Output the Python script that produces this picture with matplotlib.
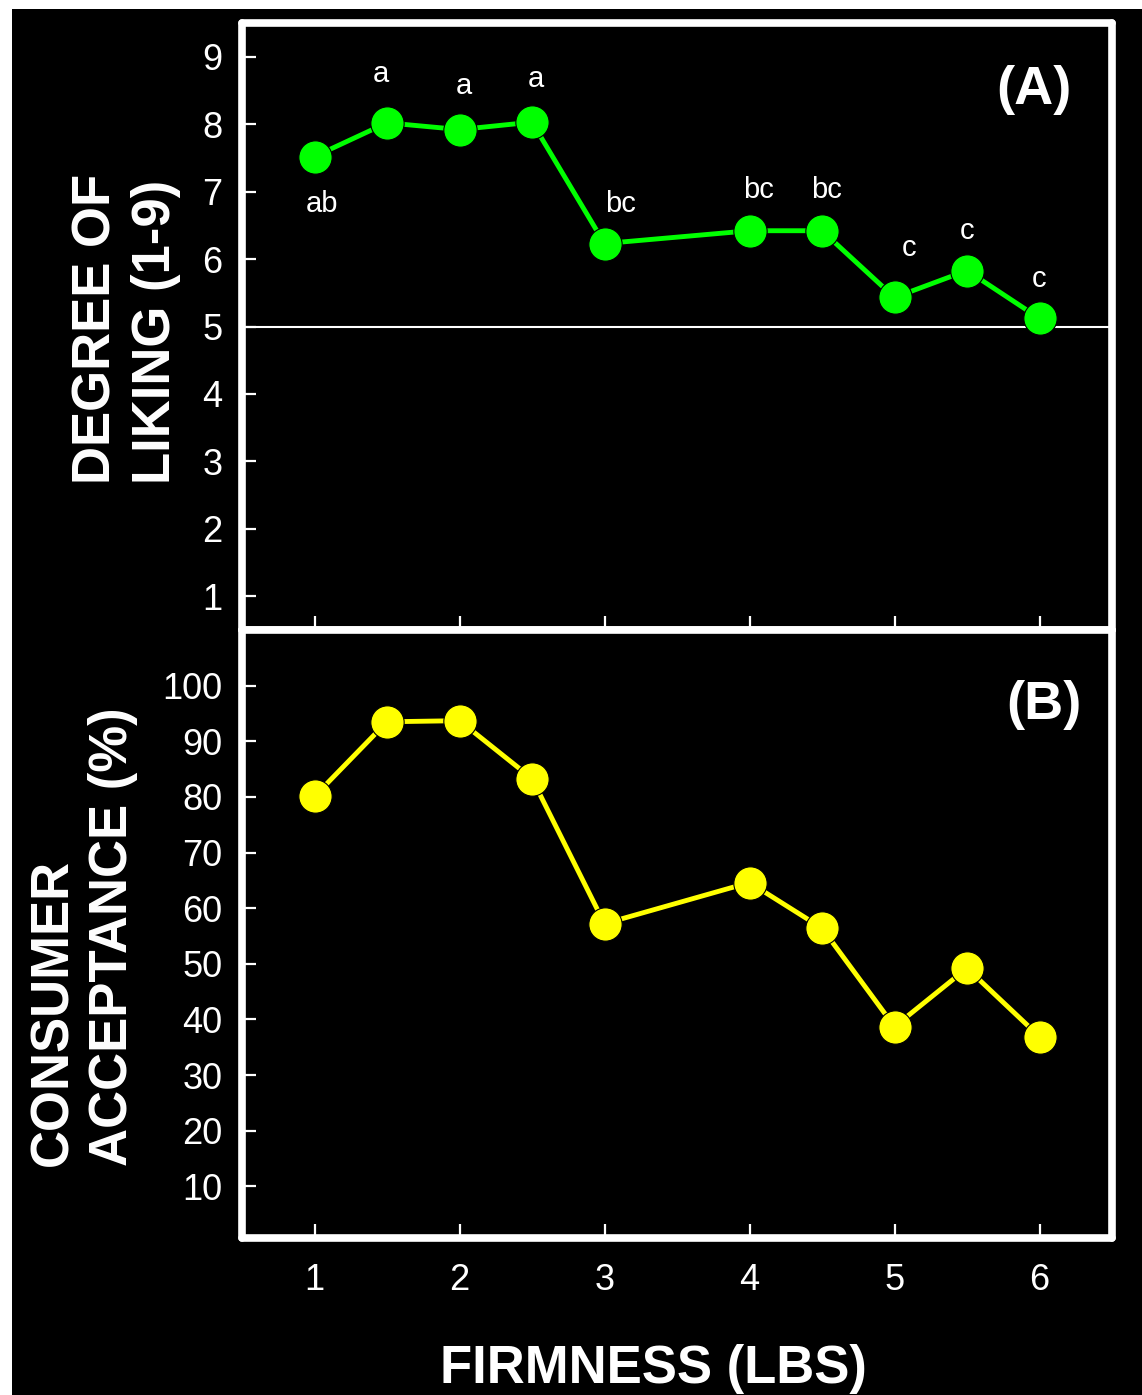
import matplotlib
matplotlib.use('Agg')
import matplotlib.pyplot as plt
from matplotlib.patches import Rectangle

plt.rcParams['font.family'] = ['Liberation Sans', 'DejaVu Sans']

# data
firmness = [1, 1.5, 2, 2.5, 3, 4, 4.5, 5, 5.5, 6]
liking = [7.52, 8.02, 7.92, 8.03, 6.23, 6.42, 6.42, 5.43, 5.83, 5.12]
acceptance = [80.1, 93.5, 93.7, 83.3, 57.2, 64.6, 56.4, 38.7, 49.2, 36.9]
letters = ['ab', 'a', 'a', 'a', 'bc', 'bc', 'bc', 'c', 'c', 'c']
letter_x = [1.055, 1.46, 2.03, 2.53, 3.11, 4.06, 4.53, 5.10, 5.50, 6.00]
letter_y = [6.82, 8.75, 8.56, 8.67, 6.82, 7.03, 7.03, 6.17, 6.42, 5.71]
x_ticks = [1, 2, 3, 4, 5, 6]
liking_ticks = [1, 2, 3, 4, 5, 6, 7, 8, 9]
accept_ticks = [10, 20, 30, 40, 50, 60, 70, 80, 90, 100]

W, H = 1142, 1395
fig = plt.figure(figsize=(W / 100, H / 100), dpi=100, facecolor='white')
fig.patches.append(Rectangle((12 / W, 0), 1, (H - 9) / H, transform=fig.transFigure,
                             facecolor='black', edgecolor='none', zorder=-10))

left, width = 242 / W, 870 / W
ax1 = fig.add_axes([left, (H - 630) / H, width, 607 / H])
ax2 = fig.add_axes([left, (H - 1238) / H, width, 608 / H])


def style(ax):
    ax.set_facecolor('black')
    for s in ax.spines.values():
        s.set_color('white')
        s.set_linewidth(5.5)
        s.set_capstyle('round')
    ax.tick_params(colors='white', direction='in', length=10, width=1.6,
                   labelsize=26)
    ax.tick_params(axis='y', pad=14)
    ax.tick_params(axis='x', pad=18)
    ax.set_xlim(0.5, 6.5)
    ax.set_xticks(x_ticks)


style(ax1)
style(ax2)

ax1.set_ylim(0.5, 9.5)
ax1.set_yticks(liking_ticks)
ax1.set_xticklabels([])
ax1.axhline(5, color='white', lw=1.5, zorder=1)
ax1.plot(firmness, liking, '-o', color='#00ff00', lw=3.5, ms=24,
         mec='black', mew=0.8, zorder=3)
for lx, ly, t in zip(letter_x, letter_y, letters):
    ax1.text(lx, ly, t, color='white', fontsize=21, ha='center', va='center')
ax1.text(0.954, 0.89, '(A)', transform=ax1.transAxes, color='white',
         fontsize=39, fontweight='bold', ha='right', va='center')
ax1.set_ylabel('DEGREE OF\nLIKING (1-9)', color='white', fontsize=38,
               fontweight='bold', linespacing=1.24, multialignment='left')
ax1.yaxis.set_label_coords(-0.070, 0.496)

ax2.set_ylim(0.7, 110)
ax2.set_yticks(accept_ticks)
ax2.set_xticklabels([str(v) for v in x_ticks])
ax2.plot(firmness, acceptance, '-o', color='#ffff00', lw=3.5, ms=24,
         mec='black', mew=0.8, zorder=3)
ax2.text(0.9655, 0.877, '(B)', transform=ax2.transAxes, color='white',
         fontsize=39, fontweight='bold', ha='right', va='center')
ax2.set_ylabel('CONSUMER\nACCEPTANCE (%)', color='white', fontsize=38,
               fontweight='bold', linespacing=1.24, multialignment='left')
ax2.yaxis.set_label_coords(-0.1195, 0.496)
ax2.set_xlabel('FIRMNESS (LBS)', color='white', fontsize=38,
               fontweight='bold', labelpad=33)
ax2.xaxis.label.set_x(0.473)

fig.savefig('out.png', dpi=100, facecolor=fig.get_facecolor())
